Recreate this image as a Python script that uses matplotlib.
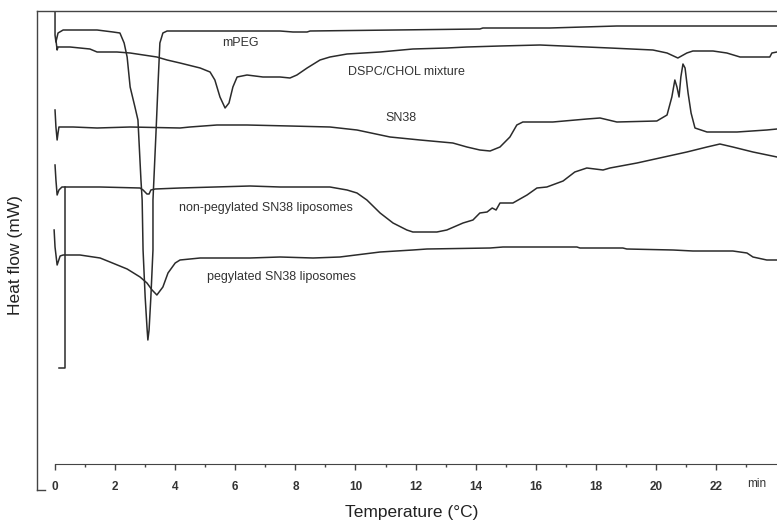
"""
DSC thermograms of mPEG, DSPC/CHOL, SN38 and the two liposome formulations.
"""

import numpy as np
import matplotlib.pyplot as plt

plt.rcParams['font.family'] = ['Liberation Sans', 'DejaVu Sans']

# temperature axis (as printed, "min" scale) and heat flow (arbitrary mW offsets)
mpeg_t = [0.00, 0.00, 0.03, 0.10, 0.27, 1.40, 1.93, 2.16, 2.30, 2.40, 2.50, 2.66, 2.76, 2.86,
          2.90, 2.93, 3.00, 3.06, 3.09, 3.13, 3.19, 3.26, 3.26, 3.29, 3.36, 3.43, 3.49, 3.59,
          3.73, 4.16, 7.49, 7.92, 8.39, 8.49, 14.14, 14.24, 16.47, 18.70, 24.03]
mpeg_hf = [47.9, 45.5, 44.8, 45.7, 46.0, 46.0, 45.8, 45.7, 44.7, 43.3, 40.3, 38.3, 37.0, 31.0,
           29.0, 24.0, 19.3, 16.3, 15.0, 16.0, 19.3, 24.0, 29.0, 31.0, 35.7, 40.7, 44.7, 45.7,
           45.9, 45.9, 45.9, 45.8, 45.8, 45.9, 46.1, 46.2, 46.2, 46.4, 46.4]

dspc_t = [0.03, 0.07, 0.10, 0.50, 1.16, 1.40, 2.06, 2.50, 3.39, 3.73, 4.16, 4.83, 5.16, 5.32,
          5.49, 5.66, 5.79, 5.92, 6.06, 6.39, 6.92, 7.49, 7.82, 8.05, 8.39, 8.82, 9.15, 9.72,
          10.82, 11.91, 13.04, 13.71, 14.81, 16.14, 18.47, 19.90, 20.37, 20.73, 21.03, 21.23,
          21.90, 22.36, 22.80, 23.79, 23.86, 24.03]
dspc_hf = [45.0, 44.0, 44.3, 44.3, 44.1, 43.8, 43.8, 43.7, 43.3, 43.0, 42.7, 42.2, 41.8, 41.0,
           39.3, 38.2, 38.7, 40.3, 41.3, 41.5, 41.3, 41.3, 41.2, 41.5, 42.2, 43.0, 43.3, 43.6,
           43.8, 44.1, 44.2, 44.3, 44.4, 44.5, 44.2, 44.0, 43.7, 43.2, 43.7, 43.9,
           43.9, 43.7, 43.3, 43.3, 43.7, 43.8]

sn38_t = [0.00, 0.03, 0.07, 0.10, 0.13, 0.60, 1.40, 2.50, 4.16, 4.49, 5.39, 6.39, 7.82, 9.15,
          10.05, 11.15, 12.15, 13.24, 13.71, 14.14, 14.48, 14.81, 15.14, 15.37, 15.57, 16.57,
          17.70, 18.14, 18.70, 20.03, 20.37, 20.53, 20.63, 20.70, 20.77, 20.83, 20.90, 20.97,
          21.07, 21.17, 21.30, 21.70, 22.70, 23.69, 24.03]
sn38_hf = [38.0, 36.3, 35.0, 35.7, 36.3, 36.3, 36.2, 36.3, 36.2, 36.3, 36.5, 36.5, 36.4, 36.3,
           36.0, 35.3, 35.0, 34.7, 34.3, 34.0, 33.9, 34.3, 35.3, 36.5, 36.8, 36.8,
           37.1, 37.2, 36.8, 36.9, 37.5, 39.3, 41.0, 40.3, 39.3, 41.3, 42.6, 42.2,
           39.7, 37.7, 36.2, 35.8, 35.8, 36.0, 36.1]

nonpeg_t = [0.00, 0.03, 0.07, 0.13, 0.23, 1.50, 2.83, 2.93, 3.06, 3.13, 3.19, 3.33, 4.16, 6.49,
            7.49, 9.15, 9.72, 10.05, 10.38, 10.82, 11.25, 11.71, 11.91, 12.71, 13.04, 13.58,
            13.91, 14.14, 14.38, 14.55, 14.68, 14.81, 15.24, 15.71, 16.04, 16.37, 16.91, 17.30,
            17.70, 18.24, 18.47, 19.37, 21.03, 21.70, 22.13, 22.56, 23.23, 24.03]
nonpeg_hf = [32.5, 31.0, 29.5, 30.0, 30.3, 30.3, 30.2, 30.0, 29.6, 29.6, 30.0, 30.1, 30.2, 30.4,
             30.3, 30.3, 30.0, 29.7, 29.0, 27.7, 26.7, 26.0, 25.8, 25.8, 26.0, 26.7,
             27.0, 27.7, 27.8, 28.2, 28.0, 28.7, 28.7, 29.5, 30.2, 30.3, 30.9, 31.8,
             32.2, 32.0, 32.2, 32.7, 33.8, 34.3, 34.6, 34.3, 33.8, 33.3]

# start-up transient drawn as a bracket next to the non-pegylated trace
bracket_t = [0.13, 0.33, 0.33]
bracket_hf = [12.2, 12.2, 30.3]

peg_t = [-0.03, 0.00, 0.07, 0.17, 0.27, 0.83, 1.50, 1.83, 2.40, 2.83, 3.06, 3.23, 3.39, 3.59,
         3.76, 4.00, 4.16, 4.83, 6.49, 7.49, 8.59, 9.48, 10.82, 11.91, 12.38, 14.48, 14.91,
         16.14, 17.37, 17.47, 18.90, 19.03, 20.57, 21.23, 22.56, 23.03, 23.23, 23.69, 24.03]
peg_hf = [26.0, 24.3, 22.5, 23.4, 23.5, 23.5, 23.2, 22.8, 22.1, 21.3, 20.7, 20.0, 19.5, 20.3,
          21.7, 22.7, 23.0, 23.2, 23.2, 23.3, 23.2, 23.3, 23.8, 24.0, 24.1, 24.2, 24.3,
          24.3, 24.3, 24.2, 24.2, 24.1, 24.0, 23.9, 23.9, 23.7, 23.3, 23.0, 23.0]

labels = ["mPEG", "DSPC/CHOL mixture", "SN38", "non-pegylated SN38 liposomes",
          "pegylated SN38 liposomes"]
label_t = [6.16, 11.68, 11.51, 7.02, 7.55]
label_hf = [44.7, 41.8, 37.2, 28.2, 21.3]

ticks = np.arange(0, 23, 2)

line_col = "#2b2b2b"
fig = plt.figure(figsize=(7.77, 5.23), dpi=100)
ax = fig.add_axes([37 / 777, 1 - 490 / 523, 740 / 777, 479 / 523])

for t, hf in [(mpeg_t, mpeg_hf), (dspc_t, dspc_hf), (sn38_t, sn38_hf),
              (nonpeg_t, nonpeg_hf), (bracket_t, bracket_hf), (peg_t, peg_hf)]:
    ax.plot(t, hf, color=line_col, lw=1.1)

for lab, t, hf in zip(labels, label_t, label_hf):
    ax.text(t, hf, lab, ha="center", va="center", fontsize=9, color="#333333")

ax.set_xlim(-0.6, 24.03)
ax.set_ylim(0, 47.9)

ax.spines["right"].set_visible(False)
for s in ["left", "top"]:
    ax.spines[s].set_color("#444444")
    ax.spines[s].set_linewidth(1.0)
ax.spines["bottom"].set_position(("data", 2.6))
ax.spines["bottom"].set_bounds(0, 24.03)
ax.spines["bottom"].set_color("#444444")

ax.set_yticks([])
ax.set_xticks(ticks)
ax.set_xticks(np.arange(1, 24, 2), minor=True)
ax.tick_params(axis="x", which="major", length=4, width=1, color="#444444",
               labelsize=8.5, labelcolor="#333333", pad=8)
ax.tick_params(axis="x", which="minor", length=2, width=1, color="#444444")
for lab in ax.get_xticklabels():
    lab.set_fontweight("bold")
ax.text(23.35, 0.6, "min", ha="center", va="center", fontsize=8.5, color="#333333")

# small foot at the bottom of the left frame
ax.plot([0, 0.011], [0, 0], transform=ax.transAxes, color="#444444", lw=1.0, clip_on=False)

fig.text(412 / 777, 1 - 512 / 523, "Temperature (°C)", ha="center", va="center",
         fontsize=12.5, color="#222222")
fig.text(16 / 777, 1 - 255 / 523, "Heat flow (mW)", ha="center", va="center",
         rotation=90, fontsize=12.5, color="#222222")

fig.savefig("out.png", dpi=100)
